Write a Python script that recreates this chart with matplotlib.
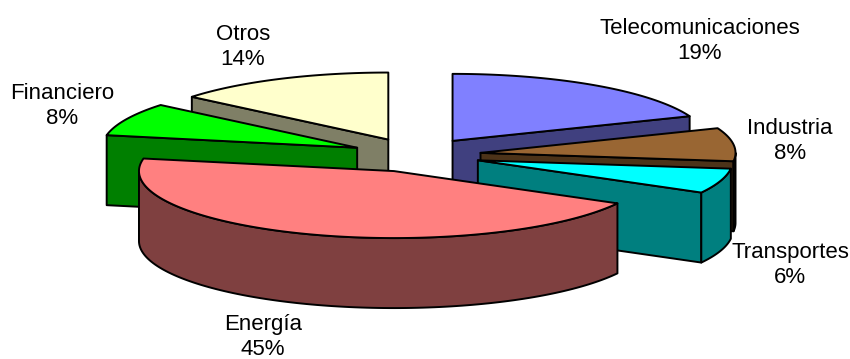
import numpy as np
import matplotlib
matplotlib.use('Agg')
import matplotlib.pyplot as plt
from matplotlib.patches import Polygon

plt.rcParams['font.family'] = ['Liberation Sans', 'DejaVu Sans']

# Share per sector, clockwise from 12 o'clock
sectors = ['Telecomunicaciones', 'Industria', 'Transportes', 'Energía', 'Financiero', 'Otros']
shares = [19, 8, 6, 45, 8, 14]
top_colors = ['#8080FF', '#996633', '#00FFFF', '#FF8080', '#00FF00', '#FFFFCC']
side_colors = ['#40407F', '#4C3319', '#007F7F', '#7F4040', '#007F00', '#7F7F66']

# Pie geometry in pixels
cx, cy = 416.0, 155.0
rx, ry = 255.0, 67.0
depth = 70.0
explode = 0.255

# Label centres, same order as sectors
label_pos = [(700, 41), (790, 141), (790, 265), (263, 337), (62, 106), (243, 47)]

# Painter's order, back slices first
draw_order = [5, 0, 4, 1, 2, 3]


def point(apex, t):
    return apex[0] + rx * np.sin(t), apex[1] - ry * np.cos(t)


def wall(ax, pts, color):
    pts = list(pts)
    low = [(x, y + depth) for x, y in reversed(pts)]
    ax.add_patch(Polygon(pts + low, closed=True, fc=color, ec='black', lw=1.4, joinstyle='round'))


fig = plt.figure(figsize=(8.5, 3.59), dpi=100)
ax = fig.add_axes([0, 0, 1, 1])
ax.set_xlim(0, 850)
ax.set_ylim(359, 0)
ax.axis('off')

edges = np.cumsum([0] + shares) / sum(shares) * 2 * np.pi

for i in draw_order:
    t1, t2 = edges[i], edges[i + 1]
    mid = (t1 + t2) / 2
    apex = (cx + explode * rx * np.sin(mid), cy - explode * ry * np.cos(mid))
    side = side_colors[i]

    # radial cut faces, only those turned towards the viewer
    if np.sin(t1) < -1e-6:
        wall(ax, [apex, point(apex, t1)], side)
    if np.sin(t2) > 1e-6:
        wall(ax, [apex, point(apex, t2)], side)

    # outer rim, front half of the ellipse only
    a, b = max(t1, np.pi / 2), min(t2, 1.5 * np.pi)
    if b > a:
        tt = np.linspace(a, b, 120)
        wall(ax, [point(apex, t) for t in tt], side)

    tt = np.linspace(t1, t2, 160)
    top = [apex] + [point(apex, t) for t in tt]
    ax.add_patch(Polygon(top, closed=True, fc=top_colors[i], ec='black', lw=1.4, joinstyle='round'))

for name, share, (x, y) in zip(sectors, shares, label_pos):
    ax.text(x, y, f'{name}\n{share}%', ha='center', va='center', fontsize=16,
            color='black', linespacing=1.24)

fig.savefig('out.png', dpi=100)
